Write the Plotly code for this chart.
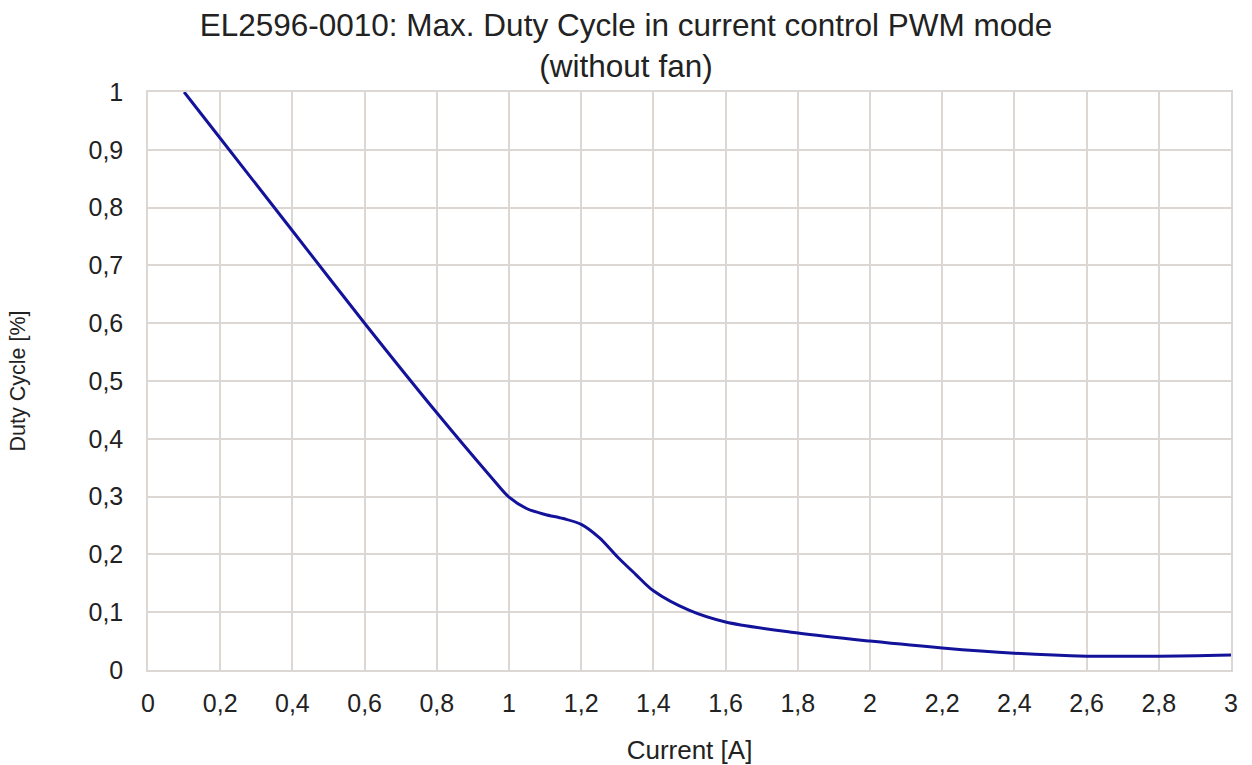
import plotly.graph_objects as go

# Max. duty cycle vs. output current (current control PWM mode, without fan)
current_a = [0.1, 0.2, 0.4, 0.6, 0.8, 0.95, 1.0, 1.05, 1.1, 1.15, 1.2, 1.25, 1.3,
             1.35, 1.4, 1.5, 1.6, 1.8, 2.0, 2.2, 2.4, 2.6, 2.8, 3.0]
duty_cycle = [1.0, 0.92, 0.76, 0.6, 0.445, 0.334, 0.299, 0.279, 0.269, 0.262,
              0.252, 0.229, 0.196, 0.166, 0.137, 0.103, 0.083, 0.064, 0.05,
              0.038, 0.029, 0.024, 0.024, 0.026]

x_ticks = [0, 0.2, 0.4, 0.6, 0.8, 1.0, 1.2, 1.4, 1.6, 1.8, 2.0, 2.2, 2.4, 2.6, 2.8, 3.0]
y_ticks = [0, 0.1, 0.2, 0.3, 0.4, 0.5, 0.6, 0.7, 0.8, 0.9, 1.0]

GRID = "#dcd7d3"
TEXT = "#222222"
FONT = "Liberation Sans, Arial, sans-serif"

fig = go.Figure(
    go.Scatter(
        x=current_a,
        y=duty_cycle,
        mode="lines",
        line=dict(color="#12129a", width=3, shape="spline", smoothing=0.9),
        hoverinfo="x+y",
    )
)

fig.update_layout(
    width=1252,
    height=765,
    margin=dict(l=148, r=21, t=92, b=95),
    paper_bgcolor="white",
    plot_bgcolor="white",
    separators=", ",
    showlegend=False,
    font=dict(family=FONT, color=TEXT, size=24),
    title=dict(
        text="EL2596-0010: Max. Duty Cycle in current control PWM mode<br>(without fan)",
        x=0.5,
        xanchor="center",
        xref="container",
        y=0.953,
        yanchor="middle",
        font=dict(size=31.5, family=FONT, color=TEXT),
    ),
)

fig.update_xaxes(
    range=[0, 3],
    tickmode="array",
    tickvals=x_ticks,
    showgrid=True,
    gridcolor=GRID,
    gridwidth=1.5,
    showline=True,
    linecolor=GRID,
    linewidth=1.5,
    mirror=True,
    zeroline=False,
    ticks="",
    automargin=False,
    ticklabelstandoff=10,
    tickfont=dict(size=25),
    title=dict(text="Current [A]", font=dict(size=26), standoff=28),
)

fig.update_yaxes(
    range=[0, 1],
    tickmode="array",
    tickvals=y_ticks,
    showgrid=True,
    gridcolor=GRID,
    gridwidth=1.5,
    showline=True,
    linecolor=GRID,
    linewidth=1.5,
    mirror=True,
    zeroline=False,
    ticks="",
    automargin=False,
    ticklabelstandoff=18,
    tickfont=dict(size=25),
    title=dict(text="Duty Cycle [%]", font=dict(size=21.5), standoff=57),
)

fig.write_html("out.html")
